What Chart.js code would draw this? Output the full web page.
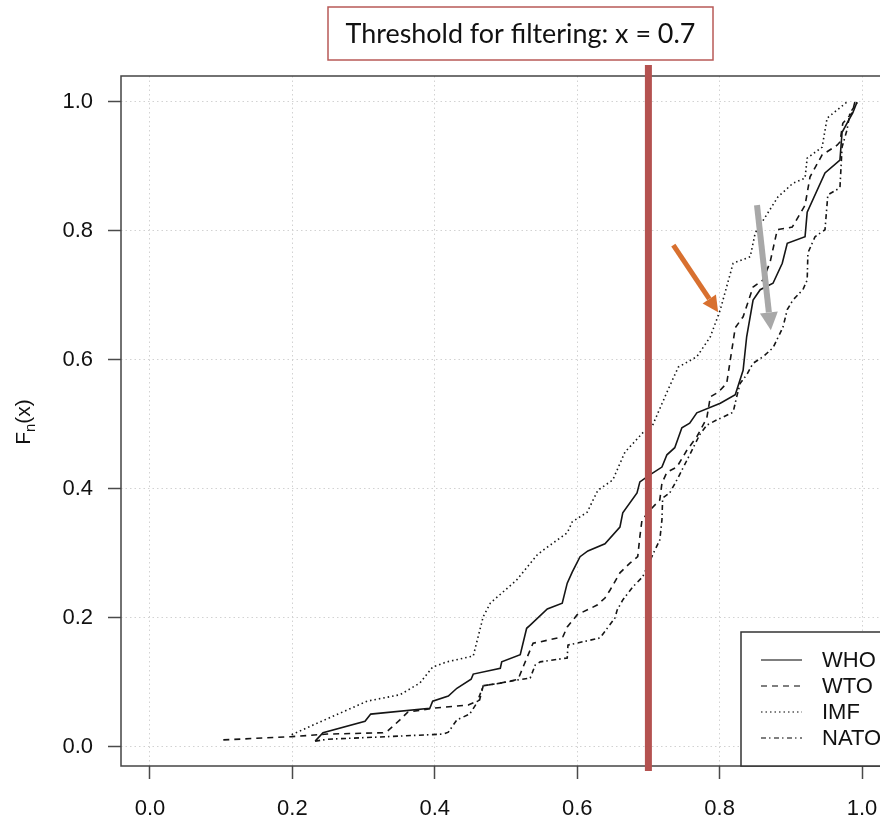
<!DOCTYPE html>
<html>
<head>
<meta charset="utf-8">
<title>Empirical CDF by organisation</title>
<script src="https://cdn.jsdelivr.net/npm/chart.js@4.4.0/dist/chart.umd.min.js"></script>
<style>
  html, body { margin: 0; padding: 0; background: #fff; overflow: hidden; }
  #wrap { width: 880px; height: 821px; overflow: hidden; }
  canvas { display: block; }
</style>
</head>
<body>
<div id="wrap"><canvas id="ecdfChart" width="900" height="821"></canvas></div>
<script>
// Empirical CDF points per organisation (x = score, y = Fn(x))
const whoX = [0.232, 0.243, 0.302, 0.310, 0.393, 0.397, 0.419, 0.431, 0.451, 0.454, 0.492, 0.494, 0.520, 0.529, 0.534, 0.558, 0.579, 0.586, 0.593, 0.604, 0.615, 0.639, 0.660, 0.664, 0.684, 0.688, 0.702, 0.719, 0.726, 0.737, 0.747, 0.758, 0.768, 0.801, 0.822, 0.833, 0.838, 0.847, 0.857, 0.875, 0.888, 0.895, 0.920, 0.923, 0.948, 0.969, 0.972, 0.980, 0.987, 0.993];
const whoY = [0.009, 0.022, 0.040, 0.051, 0.060, 0.071, 0.079, 0.091, 0.105, 0.113, 0.122, 0.132, 0.143, 0.184, 0.189, 0.214, 0.223, 0.254, 0.271, 0.295, 0.304, 0.315, 0.341, 0.363, 0.394, 0.411, 0.422, 0.434, 0.453, 0.464, 0.495, 0.502, 0.518, 0.533, 0.546, 0.584, 0.636, 0.693, 0.709, 0.719, 0.750, 0.781, 0.791, 0.829, 0.890, 0.910, 0.953, 0.969, 0.983, 1.000];

const wtoX = [0.103, 0.199, 0.249, 0.327, 0.334, 0.351, 0.362, 0.397, 0.447, 0.463, 0.468, 0.492, 0.517, 0.530, 0.538, 0.548, 0.580, 0.586, 0.600, 0.628, 0.639, 0.646, 0.660, 0.674, 0.685, 0.688, 0.691, 0.702, 0.716, 0.719, 0.726, 0.740, 0.754, 0.768, 0.782, 0.787, 0.798, 0.810, 0.815, 0.822, 0.833, 0.847, 0.861, 0.871, 0.881, 0.902, 0.920, 0.927, 0.944, 0.965, 0.969, 0.973, 0.986, 0.990];
const wtoY = [0.011, 0.016, 0.020, 0.022, 0.025, 0.042, 0.054, 0.060, 0.065, 0.073, 0.095, 0.099, 0.105, 0.140, 0.161, 0.163, 0.171, 0.186, 0.205, 0.220, 0.231, 0.243, 0.270, 0.285, 0.295, 0.326, 0.352, 0.367, 0.383, 0.409, 0.426, 0.434, 0.460, 0.481, 0.510, 0.543, 0.550, 0.564, 0.600, 0.650, 0.667, 0.713, 0.724, 0.752, 0.802, 0.806, 0.840, 0.884, 0.918, 0.933, 0.938, 0.967, 0.983, 1.000];

const imfX = [0.199, 0.229, 0.305, 0.351, 0.379, 0.397, 0.417, 0.454, 0.468, 0.478, 0.515, 0.544, 0.552, 0.586, 0.593, 0.614, 0.629, 0.650, 0.667, 0.692, 0.706, 0.726, 0.742, 0.768, 0.787, 0.801, 0.819, 0.843, 0.850, 0.882, 0.903, 0.920, 0.923, 0.944, 0.951, 0.979];
const imfY = [0.019, 0.034, 0.071, 0.081, 0.099, 0.124, 0.132, 0.141, 0.202, 0.223, 0.259, 0.298, 0.305, 0.332, 0.349, 0.364, 0.398, 0.414, 0.457, 0.487, 0.499, 0.550, 0.589, 0.605, 0.636, 0.678, 0.750, 0.760, 0.797, 0.853, 0.874, 0.882, 0.913, 0.930, 0.975, 1.000];

const natoX = [0.232, 0.249, 0.333, 0.412, 0.419, 0.431, 0.449, 0.459, 0.468, 0.492, 0.517, 0.534, 0.541, 0.548, 0.586, 0.587, 0.632, 0.653, 0.656, 0.664, 0.678, 0.692, 0.706, 0.716, 0.719, 0.720, 0.730, 0.740, 0.758, 0.772, 0.782, 0.796, 0.819, 0.824, 0.829, 0.838, 0.847, 0.861, 0.875, 0.889, 0.895, 0.903, 0.917, 0.923, 0.924, 0.934, 0.948, 0.952, 0.969, 0.972, 0.979, 0.983, 0.994];
const natoY = [0.009, 0.012, 0.016, 0.020, 0.023, 0.042, 0.051, 0.068, 0.095, 0.099, 0.104, 0.107, 0.127, 0.132, 0.138, 0.158, 0.169, 0.200, 0.212, 0.228, 0.248, 0.264, 0.298, 0.321, 0.352, 0.386, 0.394, 0.414, 0.453, 0.484, 0.499, 0.507, 0.519, 0.543, 0.564, 0.577, 0.595, 0.605, 0.619, 0.651, 0.678, 0.693, 0.709, 0.724, 0.766, 0.791, 0.802, 0.856, 0.867, 0.930, 0.957, 0.983, 1.000];

const seriesNames = ['WHO', 'WTO', 'IMF', 'NATO'];
const xTicks = [0.0, 0.2, 0.4, 0.6, 0.8, 1.0];
const yTicks = [0.0, 0.2, 0.4, 0.6, 0.8, 1.0];

// filtering threshold and the two pointer arrows (data units)
const threshold = 0.7;
const thresholdLabel = 'Threshold for filtering: x = 0.7';
const orangeArrow = [[0.735, 0.778], [0.798, 0.674]];
const greyArrow = [[0.8525, 0.840], [0.872, 0.646]];

const toPoints = (xs, ys) => xs.map((x, i) => ({ x: x, y: ys[i] }));

const INK = '#111';
const TICK_FONT = { family: '"Liberation Sans", Arial, sans-serif', size: 22 };

function drawArrow(ctx, x0, y0, x1, y1, width, headLen, headHalf, color) {
    const ang = Math.atan2(y1 - y0, x1 - x0);
    const bx = x1 - headLen * Math.cos(ang);
    const by = y1 - headLen * Math.sin(ang);
    ctx.strokeStyle = color;
    ctx.lineWidth = width;
    ctx.lineCap = 'butt';
    ctx.setLineDash([]);
    ctx.beginPath();
    ctx.moveTo(x0, y0);
    ctx.lineTo(bx, by);
    ctx.stroke();
    ctx.fillStyle = color;
    ctx.beginPath();
    ctx.moveTo(x1, y1);
    ctx.lineTo(bx + headHalf * Math.sin(ang), by - headHalf * Math.cos(ang));
    ctx.lineTo(bx - headHalf * Math.sin(ang), by + headHalf * Math.cos(ang));
    ctx.closePath();
    ctx.fill();
}

// frame, legend, axis title, threshold marker and arrows
const ecdfExtras = {
    id: 'ecdfExtras',
    afterDatasetsDraw(chart) {
        const { ctx, chartArea: a, scales: { x, y } } = chart;
        ctx.save();

        // box around the plot region
        ctx.strokeStyle = '#444';
        ctx.lineWidth = 1.5;
        ctx.setLineDash([]);
        ctx.strokeRect(a.left, a.top, a.right - a.left, a.bottom - a.top);

        // legend in the lower right corner
        const lx = a.right - 149, ly = a.bottom - 134;
        ctx.fillStyle = '#fff';
        ctx.fillRect(lx, ly, a.right + 20 - lx, a.bottom - ly);
        ctx.strokeStyle = '#333';
        ctx.lineWidth = 1.5;
        ctx.strokeRect(lx, ly, a.right + 20 - lx, a.bottom - ly);
        ctx.font = '22px "Liberation Sans", Arial, sans-serif';
        ctx.textBaseline = 'middle';
        ctx.textAlign = 'left';
        chart.data.datasets.forEach((ds, i) => {
            const ry = ly + 28 + i * 26;
            ctx.strokeStyle = '#555';
            ctx.lineWidth = 1.4;
            ctx.setLineDash(ds.borderDash || []);
            ctx.beginPath();
            ctx.moveTo(lx + 20, ry);
            ctx.lineTo(lx + 61, ry);
            ctx.stroke();
            ctx.setLineDash([]);
            ctx.fillStyle = INK;
            ctx.fillText(ds.label, lx + 81, ry + 1);
        });

        // rotated y axis title Fn(x)
        ctx.save();
        ctx.translate(30, 422);
        ctx.rotate(-Math.PI / 2);
        const big = '21px "Liberation Sans", Arial, sans-serif';
        const small = '15px "Liberation Sans", Arial, sans-serif';
        ctx.textBaseline = 'alphabetic';
        ctx.font = big;
        const wF = ctx.measureText('F').width;
        const wP = ctx.measureText('(x)').width;
        ctx.font = small;
        const wn = ctx.measureText('n').width;
        let tx = -(wF + wn + wP) / 2;
        ctx.fillStyle = INK;
        ctx.font = big;
        ctx.fillText('F', tx, 0);
        tx += wF;
        ctx.font = small;
        ctx.fillText('n', tx, 5);
        tx += wn;
        ctx.font = big;
        ctx.fillText('(x)', tx, 0);
        ctx.restore();

        // threshold line
        const px = x.getPixelForValue(threshold);
        ctx.strokeStyle = '#b45250';
        ctx.lineWidth = 7;
        ctx.setLineDash([]);
        ctx.beginPath();
        ctx.moveTo(px, a.top - 11);
        ctx.lineTo(px, a.bottom + 5);
        ctx.stroke();

        // label box above the plot
        const bx = 328, bw = 385, bt = 7, bh = 53;
        ctx.fillStyle = '#fff';
        ctx.fillRect(bx, bt, bw, bh);
        ctx.strokeStyle = '#b85a57';
        ctx.lineWidth = 1.5;
        ctx.strokeRect(bx, bt, bw, bh);
        ctx.font = '100px Lato, "Open Sans", sans-serif';
        const fit = 100 * 350 / ctx.measureText(thresholdLabel).width;
        ctx.font = fit.toFixed(1) + 'px Lato, "Open Sans", sans-serif';
        ctx.fillStyle = '#111';
        ctx.textAlign = 'center';
        ctx.textBaseline = 'middle';
        ctx.fillText(thresholdLabel, bx + bw / 2, bt + bh / 2 + 1);

        // pointer arrows
        drawArrow(ctx,
            x.getPixelForValue(orangeArrow[0][0]), y.getPixelForValue(orangeArrow[0][1]),
            x.getPixelForValue(orangeArrow[1][0]), y.getPixelForValue(orangeArrow[1][1]),
            5, 16, 8, '#d8702f');
        drawArrow(ctx,
            x.getPixelForValue(greyArrow[0][0]), y.getPixelForValue(greyArrow[0][1]),
            x.getPixelForValue(greyArrow[1][0]), y.getPixelForValue(greyArrow[1][1]),
            6, 18, 9, '#a8a8a8');

        ctx.restore();
    }
};

const axisCommon = {
    type: 'linear',
    grid: {
        color: '#d2d2d2',
        lineWidth: 1,
        tickLength: 13,
        tickColor: '#4a4a4a',
        tickWidth: 1.5,
        tickBorderDash: []
    },
    border: { display: false, dash: [1.5, 3] }
};

const ctx = document.getElementById('ecdfChart').getContext('2d');
new Chart(ctx, {
    type: 'line',
    data: {
        datasets: [
            { label: seriesNames[0], data: toPoints(whoX, whoY), borderDash: [] },
            { label: seriesNames[1], data: toPoints(wtoX, wtoY), borderDash: [6, 5] },
            { label: seriesNames[2], data: toPoints(imfX, imfY), borderDash: [1.5, 3] },
            { label: seriesNames[3], data: toPoints(natoX, natoY), borderDash: [5, 3, 1.5, 3.5] }
        ].map(ds => Object.assign(ds, {
            borderColor: '#151515',
            borderWidth: 1.6,
            pointRadius: 0,
            tension: 0,
            fill: false
        }))
    },
    options: {
        responsive: false,
        devicePixelRatio: 1,
        animation: false,
        layout: { padding: { top: 76, right: 10, left: 0, bottom: 0 } },
        plugins: {
            legend: { display: false },
            tooltip: { enabled: false }
        },
        scales: {
            x: Object.assign({}, axisCommon, {
                min: -0.0407,
                max: 1.0393,
                afterBuildTicks: s => { s.ticks = xTicks.map(v => ({ value: v })); },
                afterFit: s => { s.height = 55; },
                ticks: {
                    font: TICK_FONT,
                    color: INK,
                    padding: 17,
                    maxRotation: 0,
                    autoSkip: false,
                    callback: v => Number(v).toFixed(1)
                }
            }),
            y: Object.assign({}, axisCommon, {
                min: -0.0295,
                max: 1.0403,
                afterBuildTicks: s => { s.ticks = yTicks.map(v => ({ value: v })); },
                afterFit: s => { s.width = 121; },
                ticks: {
                    font: TICK_FONT,
                    color: INK,
                    padding: 15,
                    autoSkip: false,
                    callback: v => Number(v).toFixed(1)
                }
            })
        }
    },
    plugins: [ecdfExtras]
});
</script>
</body>
</html>
